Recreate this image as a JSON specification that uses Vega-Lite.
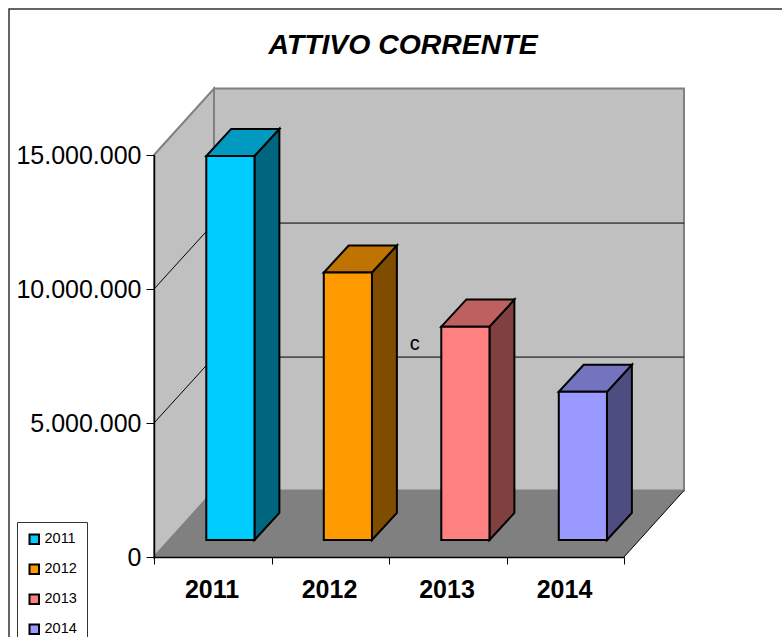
{
"$schema":"https://vega.github.io/schema/vega-lite/v6.json",
"width":470,"height":402,
"autosize":"none",
"padding":{"left":154,"top":155,"right":158,"bottom":80},
"background":"white",
"view":{"stroke":null},
"title":{"text":"ATTIVO CORRENTE","font":"Liberation Sans","fontSize":28.4,"fontWeight":"bold","fontStyle":"italic","color":"black","anchor":"middle","dx":14,"offset":-52,"frame":"group"},
"datasets":{
"bars":[{"year":"2011","value":14330000},{"year":"2012","value":9980000},{"year":"2013","value":7960000},{"year":"2014","value":5530000}],
"depth":[{"t":0},{"t":1}],
"grid":[{"v":5000000},{"v":10000000}],
"one":[{"k":1}]
},
"data":{"name":"bars"},
"resolve":{"scale":{"color":"independent"}},
"layer":[
{"data":{"name":"one"},
"mark":{"type":"rect","fill":"white","stroke":"#333333","strokeWidth":1.5},
"encoding":{
"x":{"datum":-1.234,"type":"quantitative","scale":{"domain":[0,4],"nice":false},
"axis":{"title":null,"values":[0,1,2,3,4],"zindex":1,"domainColor":"black","domainWidth":1.5,"tickColor":"black","tickSize":7,"tickWidth":1,"grid":false,"labelExpr":"datum.value==4?'':''+(2011+datum.value)","labelOffset":57.5,"labelFont":"Liberation Sans","labelFontWeight":"bold","labelFontSize":25,"labelColor":"black","labelPadding":13,"labelFlush":false,"labelOverlap":false,"labelBound":false}},
"x2":{"datum":7},
"y":{"datum":20450000,"type":"quantitative","scale":{"domain":[0,15000000],"nice":false},
"axis":{"title":null,"values":[0,5000000,10000000,15000000],"zindex":1,"domainColor":"black","domainWidth":1.5,"tickColor":"black","tickSize":8,"tickWidth":1,"grid":false,"labelExpr":"replace(format(datum.value,','),/,/g,'.')","labelFont":"Liberation Sans","labelFontSize":25,"labelColor":"black","labelPadding":5,"labelOverlap":false,"labelBound":false,"labelFlush":false}},
"y2":{"datum":-6000000}}},
{"data":{"name":"one"},
"mark":{"type":"rect","fill":"#C0C0C0","stroke":"#808080","strokeWidth":2},
"encoding":{
"x":{"datum":0.5106,"type":"quantitative"},
"x2":{"datum":4.5106},
"y":{"datum":2480000,"type":"quantitative"},
"y2":{"datum":17480000}}},
{"data":{"name":"depth"},
"transform":[{"calculate":"datum.t*0.5106","as":"x"},{"calculate":"datum.t*2480000","as":"y"},{"calculate":"15000000+datum.t*2480000","as":"y2"}],
"mark":{"type":"area","fill":"#C0C0C0","stroke":"#808080","strokeWidth":2},
"encoding":{
"x":{"field":"x","type":"quantitative"},
"y":{"field":"y","type":"quantitative"},
"y2":{"field":"y2"}}},
{"data":{"name":"depth"},
"transform":[{"calculate":"datum.t*0.5106","as":"x"},{"calculate":"4+datum.t*0.5106","as":"x2"},{"calculate":"datum.t*2480000","as":"y"}],
"mark":{"type":"area","orient":"horizontal","fill":"#808080"},
"encoding":{
"y":{"field":"y","type":"quantitative"},
"x":{"field":"x","type":"quantitative"},
"x2":{"field":"x2"}}},
{"data":{"name":"depth"},
"transform":[{"calculate":"4+datum.t*0.5106","as":"x"},{"calculate":"datum.t*2480000","as":"y"}],
"mark":{"type":"line","color":"black","strokeWidth":1},
"encoding":{
"x":{"field":"x","type":"quantitative"},
"y":{"field":"y","type":"quantitative"}}},
{"data":{"name":"grid"},
"transform":[{"calculate":"[0,1]","as":"t"},{"flatten":["t"]},{"calculate":"datum.t*0.5106","as":"x"},{"calculate":"datum.v+datum.t*2460000","as":"y"}],
"mark":{"type":"line","color":"black","strokeWidth":1},
"encoding":{
"x":{"field":"x","type":"quantitative"},
"y":{"field":"y","type":"quantitative"},
"detail":{"field":"v"}}},
{"data":{"name":"grid"},
"transform":[{"calculate":"datum.v+2460000","as":"y"}],
"mark":{"type":"rule","color":"black","strokeWidth":1},
"encoding":{
"x":{"datum":0.5106,"type":"quantitative"},
"x2":{"datum":4.5106},
"y":{"field":"y","type":"quantitative"}}},
{"data":{"name":"one"},
"mark":{"type":"text","text":"c","font":"Liberation Sans","fontSize":20,"color":"black","baseline":"middle"},
"encoding":{
"x":{"datum":2.22,"type":"quantitative"},
"y":{"datum":7960000,"type":"quantitative"}}},
{"transform":[{"calculate":"toNumber(datum.year)-2011+0.445+0.41","as":"xr"},{"calculate":"[0,1]","as":"t"},{"flatten":["t"]},{"calculate":"datum.xr+datum.t*0.212","as":"x"},{"calculate":"634000+datum.t*1010000","as":"y"},{"calculate":"datum.value+634000+datum.t*1010000","as":"y2"}],
"mark":{"type":"area","stroke":"black","strokeWidth":2,"strokeJoin":"miter","opacity":1},
"encoding":{
"x":{"field":"x","type":"quantitative"},
"y":{"field":"y","type":"quantitative"},
"y2":{"field":"y2"},
"color":{"field":"year","type":"nominal","legend":null,"scale":{"domain":["2011","2012","2013","2014"],"range":["#006680","#804D00","#804040","#4D4D80"]}}}},
{"transform":[{"calculate":"toNumber(datum.year)-2011+0.445","as":"xl"},{"calculate":"[0,1]","as":"t"},{"flatten":["t"]},{"calculate":"datum.xl+datum.t*0.212","as":"x"},{"calculate":"datum.xl+0.41+datum.t*0.212","as":"x2"},{"calculate":"datum.value+634000+datum.t*1010000","as":"y"}],
"mark":{"type":"area","orient":"horizontal","stroke":"black","strokeWidth":2,"strokeJoin":"miter","opacity":1},
"encoding":{
"y":{"field":"y","type":"quantitative"},
"x":{"field":"x","type":"quantitative"},
"x2":{"field":"x2"},
"color":{"field":"year","type":"nominal","legend":null,"scale":{"domain":["2011","2012","2013","2014"],"range":["#0099BF","#BF7300","#BF6060","#7373BF"]}}}},
{"transform":[{"calculate":"toNumber(datum.year)-2011+0.445","as":"xl"},{"calculate":"datum.xl+0.41","as":"xr"},{"calculate":"datum.value+634000","as":"top"},{"calculate":"634000","as":"base"}],
"mark":{"type":"rect","stroke":"black","strokeWidth":2,"opacity":1},
"encoding":{
"x":{"field":"xl","type":"quantitative"},
"x2":{"field":"xr"},
"y":{"field":"base","type":"quantitative"},
"y2":{"field":"top"},
"color":{"field":"year","type":"nominal","scale":{"domain":["2011","2012","2013","2014"],"range":["#00CCFF","#FF9900","#FF8080","#9999FF"]},
"legend":{"title":null,"orient":"none","legendX":-137,"legendY":367,"symbolType":"square","symbolSize":90,"symbolStrokeColor":"black","symbolStrokeWidth":2,"labelFont":"Liberation Sans","labelFontSize":14.5,"labelColor":"black","strokeColor":"#333333","fillColor":"white","padding":10,"rowPadding":12,"labelOffset":3}}}}
]
}
